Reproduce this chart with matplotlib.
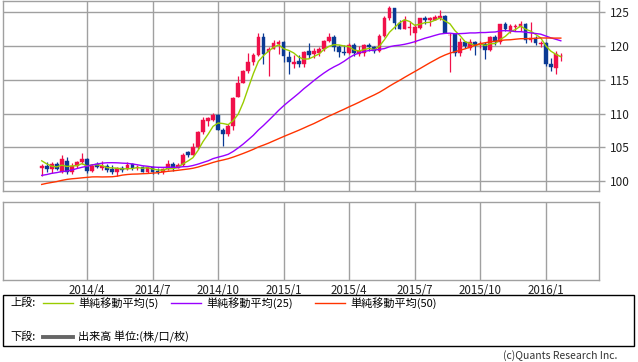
import numpy as np
import pandas as pd
import matplotlib
matplotlib.use("Agg")
import matplotlib.pyplot as plt
from matplotlib.lines import Line2D
from matplotlib.patches import Rectangle

plt.rcParams['font.family'] = ['Noto Sans CJK JP', 'DejaVu Sans']

# weekly closes before the visible window (needed for the moving averages)
prior_closes = [93.6, 96.0, 95.3, 94.5, 94.2, 97.6, 99.6, 99.5, 98.0, 98.9, 101.6, 103.2, 101.0,
                100.5, 97.5, 94.0, 97.9, 99.2, 101.2, 99.2, 100.6, 98.3, 98.9, 96.2, 97.5, 98.7,
                98.1, 99.1, 99.4, 99.4, 98.3, 97.5, 98.6, 97.7, 97.4, 98.7, 99.1, 100.2, 101.2,
                102.4, 102.9, 103.2, 104.1, 105.1, 104.9, 104.1, 104.3, 102.3, 102.0]

# visible weekly candles (Feb 2014 - Jan 2016)
opens = [101.9, 102.3, 101.8, 102.6, 101.4, 103.0, 101.3, 102.3, 102.8, 103.3,
         101.5, 102.5, 102.0, 102.2, 101.8, 101.3, 101.9, 101.8, 102.5, 101.9,
         102.1, 101.3, 102.1, 101.5, 101.4, 101.8, 102.6, 102.0, 102.4, 104.3,
         103.9, 105.0, 107.2, 108.9, 109.1, 109.8, 107.6, 106.9, 108.2, 112.4,
         114.6, 116.3, 117.7, 118.7, 121.4, 119.1, 119.6, 120.3, 120.6, 118.4,
         117.4, 117.8, 117.3, 119.3, 118.8, 119.0, 119.6, 120.8, 121.4, 119.9,
         119.1, 119.0, 120.2, 118.8, 118.9, 120.1, 119.8, 119.2, 121.5, 124.1,
         125.6, 123.4, 122.6, 122.7, 122.0, 122.7, 124.1, 123.8, 123.9, 124.2,
         124.4, 121.6, 121.8, 118.9, 120.6, 119.7, 120.6, 120.1, 120.3, 119.4,
         121.4, 120.6, 123.2, 122.2, 122.8, 122.8, 123.2, 120.9, 121.2, 120.3,
         120.4, 117.4, 116.8, 118.5]
highs = [102.5, 102.8, 102.8, 102.8, 103.8, 103.5, 102.7, 103.0, 104.2, 103.4,
         102.6, 102.8, 103.0, 102.5, 102.4, 102.1, 102.2, 102.8, 102.7, 102.4,
         102.3, 102.3, 102.2, 101.9, 102.0, 103.1, 102.8, 102.7, 104.1, 104.5,
         105.7, 107.4, 109.5, 109.5, 110.1, 109.9, 107.9, 108.4, 112.5, 115.6,
         116.4, 119.0, 118.9, 121.9, 121.9, 119.8, 120.9, 120.9, 120.8, 119.3,
         118.7, 118.7, 119.2, 120.5, 119.7, 119.9, 120.9, 122.0, 121.6, 120.1,
         120.2, 120.4, 120.4, 120.0, 120.3, 120.5, 120.0, 121.8, 124.5, 125.9,
         125.7, 123.8, 124.4, 123.7, 123.3, 124.2, 124.5, 124.3, 124.6, 125.3,
         124.6, 121.9, 121.8, 121.2, 120.8, 121.0, 120.8, 120.8, 120.6, 121.5,
         121.7, 123.3, 123.6, 123.2, 123.3, 123.7, 123.4, 123.6, 121.5, 120.8,
         120.6, 118.2, 119.2, 119.0]
lows = [100.8, 101.4, 101.2, 101.6, 101.2, 101.0, 101.1, 102.0, 102.6, 101.2,
        101.3, 101.9, 101.7, 101.4, 101.1, 100.8, 101.4, 101.7, 101.6, 101.6,
        101.3, 101.2, 101.1, 101.1, 101.1, 101.7, 101.5, 101.9, 102.3, 103.5,
        103.9, 104.8, 106.9, 108.2, 108.9, 107.5, 105.2, 106.7, 107.6, 112.4,
        114.5, 116.0, 117.2, 118.6, 117.3, 115.5, 119.5, 118.8, 117.6, 115.8,
        116.7, 116.9, 116.9, 118.3, 118.3, 118.6, 119.3, 120.6, 119.3, 118.4,
        118.7, 118.8, 118.5, 118.5, 118.5, 119.2, 118.9, 119.1, 121.4, 123.8,
        122.5, 122.5, 122.5, 121.7, 120.4, 122.5, 123.3, 123.0, 123.8, 123.8,
        121.9, 116.2, 118.6, 118.6, 119.7, 119.4, 118.7, 119.7, 118.1, 119.2,
        120.1, 120.3, 122.2, 122.0, 122.3, 122.3, 120.5, 120.6, 120.2, 119.9,
        117.0, 116.3, 115.9, 117.8]
closes = [102.3, 101.8, 102.6, 101.8, 103.3, 101.3, 102.2, 102.8, 103.3, 101.5,
          102.3, 102.1, 102.3, 101.7, 101.4, 101.9, 101.7, 102.4, 101.9, 102.1,
          101.4, 102.1, 101.4, 101.3, 101.8, 102.6, 102.0, 102.4, 103.9, 103.9,
          105.1, 107.3, 109.0, 109.3, 109.8, 107.6, 106.9, 108.2, 112.3, 114.6,
          116.3, 117.7, 118.7, 121.4, 118.8, 119.6, 120.5, 120.6, 118.5, 117.6,
          117.7, 117.4, 119.1, 118.7, 119.3, 119.6, 120.8, 121.4, 119.9, 119.1,
          118.9, 120.2, 118.9, 119.3, 120.1, 119.8, 119.2, 121.5, 124.1, 125.6,
          123.4, 122.6, 123.8, 122.8, 122.8, 124.1, 123.8, 124.1, 124.3, 124.4,
          122.0, 121.7, 119.0, 120.6, 120.0, 120.6, 120.1, 120.3, 119.4, 121.4,
          120.6, 123.2, 122.6, 122.9, 122.9, 123.2, 120.9, 121.2, 120.4, 120.4,
          117.4, 116.9, 118.8, 118.6]

date_labels = ["2014/4", "2014/7", "2014/10", "2015/1", "2015/4", "2015/7", "2015/10", "2016/1"]
date_label_week = [9, 22, 35, 48, 61, 74, 87, 100]
price_ticks = [100, 105, 110, 115, 120, 125]
ma_periods = [5, 25, 50]
ma_colors = ["#99cc00", "#9900ff", "#ff3300"]
ma_names = ["単純移動平均(5)", "単純移動平均(25)", "単純移動平均(50)"]

UP = "#f0104a"
DOWN = "#0a3a94"
GRID = "#a0a0a0"

W, H = 638, 362
fig = plt.figure(figsize=(W / 100, H / 100), dpi=100)

def fig_rect(x0, y0, x1, y1):
    return [x0 / W, 1 - y1 / H, (x1 - x0) / W, (y1 - y0) / H]

ax = fig.add_axes(fig_rect(3, 0.5, 599, 190.5))
ax2 = fig.add_axes(fig_rect(3, 201.5, 599, 280))

n = len(closes)
x = np.arange(n)
xmin, xmax = (3 - 41.7) / 5.04, (599 - 41.7) / 5.04

# grid
for a in (ax, ax2):
    for w in date_label_week:
        a.axvline(w, color=GRID, lw=1.0, zorder=0)
    a.set_xlim(xmin, xmax)
    for s in a.spines.values():
        s.set_color(GRID)
        s.set_linewidth(1.0)
for p in price_ticks:
    ax.axhline(p, color=GRID, lw=1.0, zorder=0)

# candles
bw = 0.74
for i in range(n):
    o, h, l, c = opens[i], highs[i], lows[i], closes[i]
    col = UP if c >= o else DOWN
    ax.vlines(x[i], l, h, color=col, lw=0.9, zorder=2)
    bottom = min(o, c)
    height = max(abs(c - o), 0.08)
    ax.add_patch(Rectangle((x[i] - bw / 2, bottom), bw, height, facecolor=col,
                           edgecolor=col, lw=0.3, zorder=3))

# moving averages
allc = pd.Series(prior_closes + closes)
for per, colr in zip(ma_periods, ma_colors):
    ma = allc.rolling(per).mean().values[len(prior_closes):]
    ax.plot(x, ma, color=colr, lw=1.0, zorder=4)

ax.set_ylim(98.6, 126.75)
ax.yaxis.tick_right()
ax.set_yticks(price_ticks)
ax.set_yticklabels([str(p) for p in price_ticks])
ax.tick_params(axis='y', length=4, width=1.0, color=GRID, pad=4, labelsize=8.5, labelcolor="#222222")
ax.tick_params(axis='x', length=0, labelbottom=False)

ax2.set_ylim(0, 1)
ax2.set_yticks([])
ax2.set_xticks(date_label_week)
ax2.set_xticklabels(date_labels)
ax2.tick_params(axis='x', length=0, pad=3, labelsize=8.3, labelcolor="#222222")

# legend box
fig.patches.append(Rectangle((3 / W, 1 - 346 / H), 631 / W, 51 / H, transform=fig.transFigure,
                             fill=False, edgecolor="black", lw=1.0))
fs = 8
fig.text(10 / W, 1 - 303 / H, "上段:", fontsize=fs, va="center", ha="left")
fig.text(10 / W, 1 - 337 / H, "下段:", fontsize=fs, va="center", ha="left")
line_x = [(43, 73), (171, 201), (315, 345)]
text_x = [78, 206, 350]
for (lx0, lx1), tx, colr, name in zip(line_x, text_x, ma_colors, ma_names):
    fig.lines.append(Line2D([lx0 / W, lx1 / W], [1 - 303 / H] * 2, transform=fig.transFigure,
                            color=colr, lw=1.0))
    fig.text(tx / W, 1 - 303 / H, name, fontsize=fs, va="center", ha="left")
fig.lines.append(Line2D([43 / W, 73 / W], [1 - 337 / H] * 2, transform=fig.transFigure,
                        color="#666666", lw=2.8))
fig.text(78 / W, 1 - 337 / H, "出来高 単位:(株/口/枚)", fontsize=fs, va="center", ha="left")

fig.text(617 / W, 1 - 356 / H, "(c)Quants Research Inc.", fontsize=7.5, va="center", ha="right",
         color="#333333")

fig.savefig("out.png", dpi=100, facecolor="white")
